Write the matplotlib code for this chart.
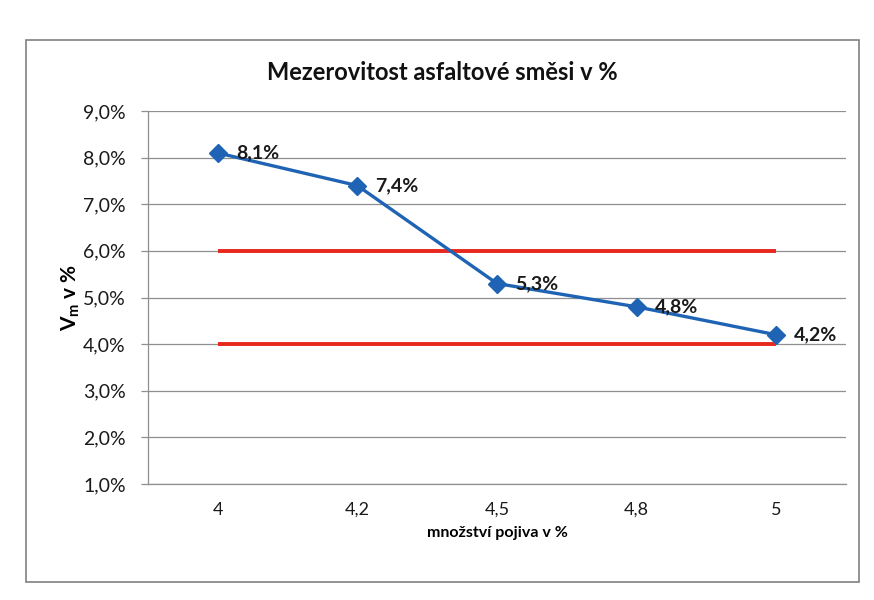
import numpy as np
import matplotlib
matplotlib.use("Agg")
import matplotlib.pyplot as plt
from matplotlib.patches import Rectangle
from matplotlib.ticker import FuncFormatter, MultipleLocator


TITLE = "Mezerovitost asfaltové směsi v %"
XLABEL = "množství pojiva v %"
YLABEL = r"$\mathbf{V_m}$ v %"

categories = ["4", "4,2", "4,5", "4,8", "5"]
voids = [8.1, 7.4, 5.3, 4.8, 4.2]      # V_m in %
upper_limit = [6.0, 6.0, 6.0, 6.0, 6.0]
lower_limit = [4.0, 4.0, 4.0, 4.0, 4.0]

BLUE = "#1f64b4"
RED = "#e8281e"
GRID = "#8f8f8f"


def pct(v, pos=None):
    return ("%.1f%%" % v).replace(".", ",")


plt.rcParams["font.family"] = ["Lato", "DejaVu Sans"]
plt.rcParams["mathtext.fontset"] = "custom"
plt.rcParams["mathtext.rm"] = "Lato"
plt.rcParams["mathtext.bf"] = "Lato:bold"

W, H = 874, 600
fig = plt.figure(figsize=(W / 100, H / 100), dpi=100)

# chart area frame
fig.patches.append(Rectangle((26 / W, 1 - 582 / H), (859 - 26) / W, (582 - 40) / H,
                             transform=fig.transFigure, fill=False,
                             edgecolor="#808080", linewidth=1.2))

ax = fig.add_axes([148 / W, 1 - 484 / H, (846 - 148) / W, (484 - 111) / H])

x = np.arange(len(categories))
ax.plot(x, upper_limit, color=RED, linewidth=2.8, solid_capstyle="butt", zorder=2)
ax.plot(x, lower_limit, color=RED, linewidth=2.8, solid_capstyle="butt", zorder=2)
ax.plot(x, voids, color=BLUE, linewidth=2.4, marker="D", markersize=9, zorder=3)

for xi, v in zip(x, voids):
    ax.annotate(pct(v), (xi, v), xytext=(13, 0), textcoords="offset points",
                ha="left", va="center", fontsize=14, fontweight="bold",
                color="#1a1a1a", zorder=4)

ax.set_xlim(-0.5, len(categories) - 0.5)
ax.set_ylim(1.0, 9.0)
ax.yaxis.set_major_locator(MultipleLocator(1.0))
ax.yaxis.set_major_formatter(FuncFormatter(pct))
ax.set_xticks(x)
ax.set_xticklabels(categories)

ax.grid(axis="y", color=GRID, linewidth=0.9)
ax.set_axisbelow(True)
for side in ["top", "right"]:
    ax.spines[side].set_visible(False)
for side in ["left", "bottom"]:
    ax.spines[side].set_color(GRID)
    ax.spines[side].set_linewidth(0.9)

ax.tick_params(axis="y", length=5, width=0.9, color=GRID, pad=11,
               labelsize=14, labelcolor="#1a1a1a")
ax.tick_params(axis="x", length=0, pad=13, labelsize=13, labelcolor="#1a1a1a")

ax.set_xlabel(XLABEL, fontsize=11.5, fontweight="bold", labelpad=6)
ax.set_ylabel(YLABEL, fontsize=15, fontweight="bold", labelpad=1)

fig.text(442 / W, 1 - 72 / H, TITLE, ha="center", va="center",
         fontsize=17, fontweight="bold", color="#111111")

fig.savefig("out.png", dpi=100)
